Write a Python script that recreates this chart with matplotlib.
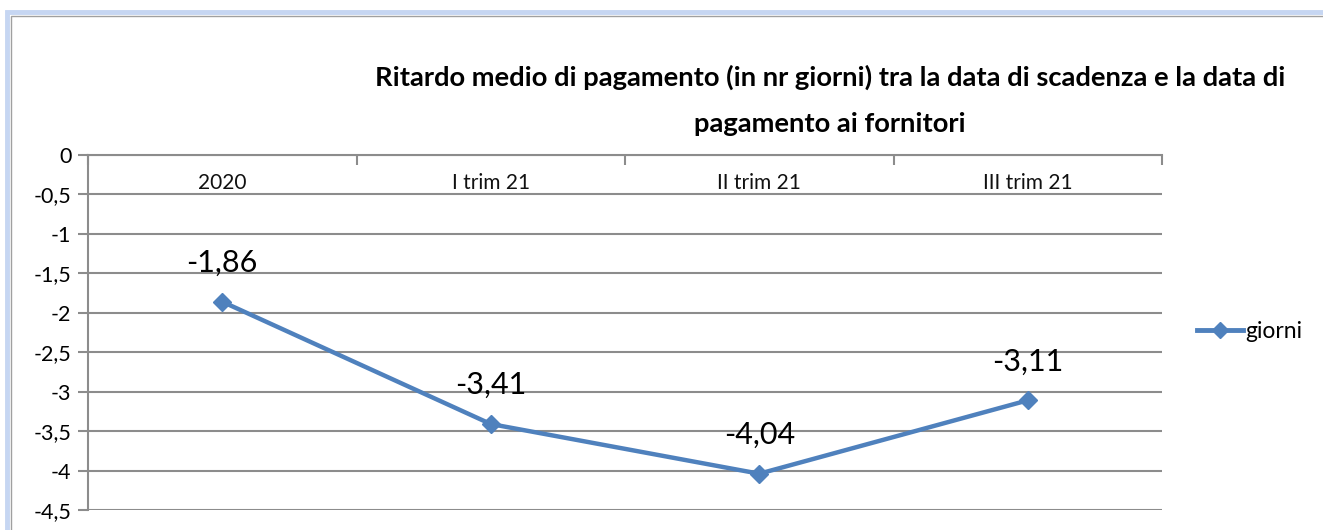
import matplotlib.pyplot as plt
from matplotlib.patches import Rectangle
from matplotlib.ticker import FuncFormatter, FixedLocator
from matplotlib.lines import Line2D

plt.rcParams["font.family"] = ["Lato", "DejaVu Sans"]

# dati
categorie = ["2020", "I trim 21", "II trim 21", "III trim 21"]
giorni = [-1.86, -3.41, -4.04, -3.11]
y_ticks = [0, -0.5, -1, -1.5, -2, -2.5, -3, -3.5, -4, -4.5]

W, H = 1323, 530
fig = plt.figure(figsize=(W / 100, H / 100), dpi=100)

# cornice stile Excel (tagliata a destra e in basso)
fig.add_artist(Rectangle((7 / W, -0.1), 1.2, 1.1 - 12 / H, transform=fig.transFigure,
                         fill=False, edgecolor="#c6d6f2", linewidth=3.5))
fig.add_artist(Rectangle((11 / W, -0.1), 1.2, 1.1 - 16 / H, transform=fig.transFigure,
                         fill=False, edgecolor="#a0a0a0", linewidth=1))

left, right, top, bottom = 88, 1162, 155, 510
ax = fig.add_axes([left / W, 1 - bottom / H, (right - left) / W, (bottom - top) / H])

x = list(range(len(categorie)))
ax.plot(x, giorni, color="#4f81bd", linewidth=3.2, marker="D", markersize=9,
        markeredgecolor="#4f81bd", label="giorni")

for xi, v in zip(x, giorni):
    ax.annotate(f"{v:.2f}".replace(".", ","), (xi, v), xytext=(0, 28),
                textcoords="offset points", ha="center", va="center", fontsize=22)

ax.set_xlim(-0.5, len(categorie) - 0.5)
ax.set_ylim(-4.5, 0)
ax.set_yticks(y_ticks)
ax.yaxis.set_major_formatter(FuncFormatter(lambda v, p: f"{v:g}".replace(".", ",")))
ax.grid(axis="y", color="#8c8c8c", linewidth=1.5)
ax.set_axisbelow(True)

# asse x in alto
ax.xaxis.tick_top()
ax.xaxis.set_major_locator(FixedLocator([i - 0.5 for i in range(len(categorie) + 1)]))
ax.xaxis.set_major_formatter(FuncFormatter(lambda v, p: ""))
ax.tick_params(axis="x", direction="in", length=7, width=1.5, color="#8c8c8c")
ax.tick_params(axis="y", direction="out", length=7, width=1.5, color="#8c8c8c",
               labelsize=15.5, pad=5)
for xi, c in zip(x, categorie):
    ax.text(xi, -0.35, c, ha="center", va="center", fontsize=15, color="#111111")

for s in ["right", "bottom"]:
    ax.spines[s].set_visible(False)
ax.spines["left"].set_color("#8c8c8c")
ax.spines["left"].set_linewidth(1.5)
ax.spines["top"].set_color("#8c8c8c")
ax.spines["top"].set_linewidth(1.5)

fig.text(830 / W, 1 - 77 / H, "Ritardo medio di pagamento (in nr giorni) tra la data di scadenza e la data di",
         ha="center", va="center", fontsize=19.7, fontweight="bold")
fig.text(830 / W, 1 - 124 / H, "pagamento ai fornitori",
         ha="center", va="center", fontsize=19.7, fontweight="bold")

handle = Line2D([], [], color="#4f81bd", linewidth=3.5, marker="D", markersize=8)
fig.legend([handle], ["giorni"], loc="center left", bbox_to_anchor=(1197 / W, 1 - 332 / H),
           frameon=False, fontsize=16.5, handlelength=2.0, handletextpad=0.1,
           borderaxespad=0, borderpad=0)

fig.savefig("out.png", dpi=100)
